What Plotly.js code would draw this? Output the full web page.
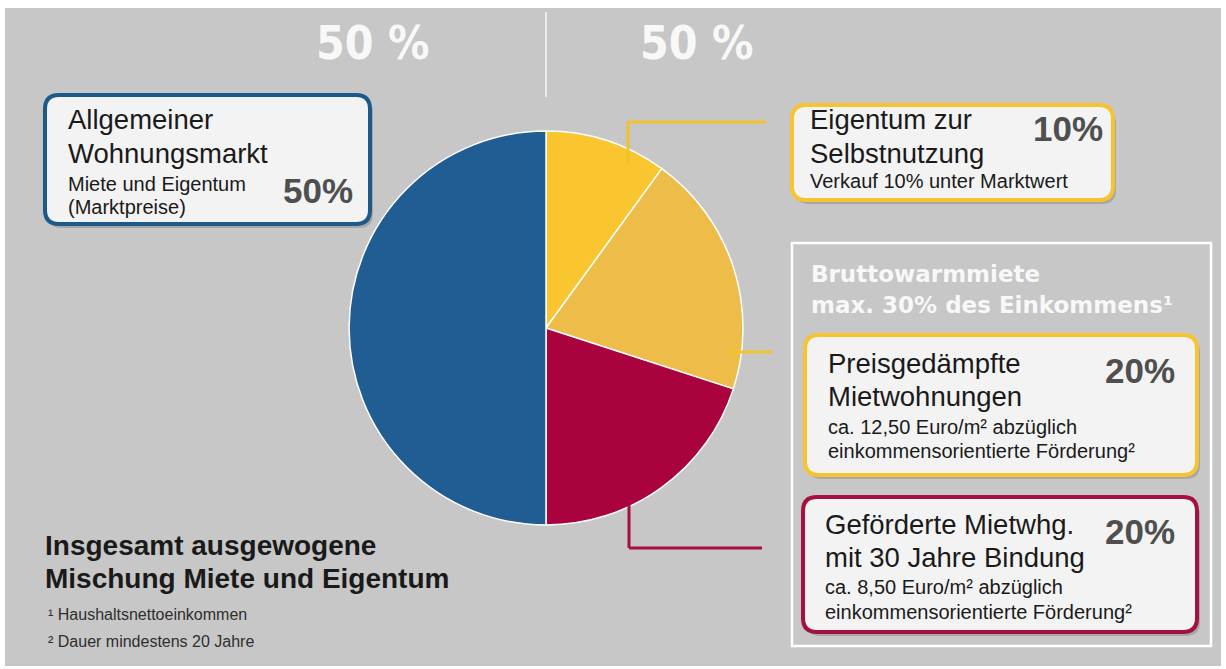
<!DOCTYPE html>
<html><head><meta charset="utf-8">
<script src="https://cdn.plot.ly/plotly-3.0.1.min.js"></script>
<style>html,body{margin:0;padding:0;background:#fff}#chart{width:1226px;height:669px}</style>
</head><body><div id="chart"></div>
<script>
// ---- data ----
const sliceLabels = ['Eigentum zur Selbstnutzung','Preisgedämpfte Mietwohnungen','Geförderte Mietwhg. mit 30 Jahre Bindung','Allgemeiner Wohnungsmarkt'];
const sliceValues = [10, 20, 20, 50];
const sliceColors = ['#f9c62f', '#eebc48', '#a9023f', '#1f5d92'];
const halfLabels = ['50 %', '50 %'];
const boxTitles = [
  ['Eigentum zur', 'Selbstnutzung'],
  ['Preisgedämpfte', 'Mietwohnungen'],
  ['Geförderte Mietwhg.', 'mit 30 Jahre Bindung'],
  ['Allgemeiner', 'Wohnungsmarkt']
];
const boxSubtitles = [
  ['Verkauf 10% unter Marktwert'],
  ['ca. 12,50 Euro/m² abzüglich', 'einkommensorientierte Förderung²'],
  ['ca. 8,50 Euro/m² abzüglich', 'einkommensorientierte Förderung²'],
  ['Miete und Eigentum', '(Marktpreise)']
];
const groupHeader = ['Bruttowarmmiete', 'max. 30% des Einkommens¹'];
const summaryLines = ['Insgesamt ausgewogene', 'Mischung Miete und Eigentum'];
const footnotes = ['¹ Haushaltsnettoeinkommen', '² Dauer mindestens 20 Jahre'];

// ---- helpers ----
const W = 1226, H = 669;
const px = x => x / W, py = y => 1 - y / H;
function rr(x0, y0, x1, y1, r) {
  const P = (x, y) => px(x).toFixed(5) + ',' + py(y).toFixed(5);
  return 'M' + P(x0 + r, y0) + ' L' + P(x1 - r, y0) + ' Q' + P(x1, y0) + ' ' + P(x1, y0 + r) +
    ' L' + P(x1, y1 - r) + ' Q' + P(x1, y1) + ' ' + P(x1 - r, y1) +
    ' L' + P(x0 + r, y1) + ' Q' + P(x0, y1) + ' ' + P(x0, y1 - r) +
    ' L' + P(x0, y0 + r) + ' Q' + P(x0, y0) + ' ' + P(x0 + r, y0) + ' Z';
}
const FONT = 'Liberation Sans, Arial, sans-serif';
const shapes = [];
const ann = [];
function line(x0, y0, x1, y1, color, w) {
  shapes.push({type: 'line', xref: 'paper', yref: 'paper', x0: px(x0), y0: py(y0), x1: px(x1), y1: py(y1),
    line: {color: color, width: w}, layer: 'above'});
}
function box(x0, y0, x1, y1, color) {
  shapes.push({type: 'path', xref: 'paper', yref: 'paper', path: rr(x0 + 3, y0 + 4, x1 + 3, y1 + 4, 14),
    fillcolor: 'rgba(0,0,0,0.16)', line: {width: 0}, layer: 'below'});
  shapes.push({type: 'path', xref: 'paper', yref: 'paper', path: rr(x0, y0, x1, y1, 14),
    fillcolor: '#f3f3f3', line: {color: color, width: 4}, layer: 'below'});
}
function text(t, x, y, size, opts) {
  opts = opts || {};
  ann.push({text: t, xref: 'paper', yref: 'paper', x: px(x), y: py(y), showarrow: false,
    xanchor: opts.xanchor || 'left', yanchor: 'middle',
    font: {family: opts.family || FONT, size: size, color: opts.color || '#1a1a1a', weight: opts.weight || 'normal'}});
}

// background
shapes.push({type: 'rect', xref: 'paper', yref: 'paper', x0: px(5), y0: py(8), x1: px(1221), y1: py(666),
  fillcolor: '#c7c7c7', line: {width: 0}, layer: 'below'});
// group outline (white)
shapes.push({type: 'rect', xref: 'paper', yref: 'paper', x0: px(792), y0: py(243), x1: px(1211), y1: py(646),
  fillcolor: 'rgba(0,0,0,0)', line: {color: '#ffffff', width: 2.5}, layer: 'below'});
// top separator
line(546, 12, 546, 97, 'rgba(255,255,255,0.85)', 1.5);

// boxes
box(45, 95, 370, 224, '#1d5a8c');
box(792, 105, 1113, 200, '#f5c430');
box(805, 335, 1197, 475, '#f5c430');
box(803, 497, 1197, 632, '#a5103f');

// connectors
line(628, 122, 766, 122, '#f2c12e', 3);
line(628, 122, 628, 166, '#f2c12e', 3);
line(728, 352, 772, 352, '#f2c12e', 3);
line(629, 505, 629, 548, '#a5103f', 3);
line(629, 548, 762, 548, '#a5103f', 3);

// top labels
const HFONT = 'Liberation Sans Narrow, DejaVu Sans Condensed, Liberation Sans, sans-serif';
text(halfLabels[0], 372, 43, 46, {xanchor: 'center', color: 'rgba(255,255,255,0.9)', weight: 'bold', family: HFONT});
text(halfLabels[1], 696, 43, 46, {xanchor: 'center', color: 'rgba(255,255,255,0.9)', weight: 'bold', family: HFONT});

// box texts
const boxPos = [
  {x: 808, ty: [120, 153], sy: [181], px: 1105, py: 128},
  {x: 826, ty: [363, 396], sy: [427, 451], px: 1177, py: 370},
  {x: 823, ty: [524, 557], sy: [587, 612], px: 1177, py: 531},
  {x: 66, ty: [120, 153], sy: [184, 207], px: 355, py: 191}
];
for (let i = 0; i < sliceValues.length; i++) {
  const b = boxPos[i];
  boxTitles[i].forEach((t, k) => text(t, b.x, b.ty[k], 27.5));
  boxSubtitles[i].forEach((t, k) => text(t, b.x, b.sy[k], 20));
  text(sliceValues[i] + '%', b.px, b.py, 35, {xanchor: 'right', color: '#4f4f4f', weight: 'bold'});
}

// group header
text(groupHeader[0], 809, 274, 23, {color: 'rgba(255,255,255,0.88)', weight: 'bold', family: 'DejaVu Sans, sans-serif'});
text(groupHeader[1], 809, 305, 23, {color: 'rgba(255,255,255,0.88)', weight: 'bold', family: 'DejaVu Sans, sans-serif'});

// summary and footnotes
text(summaryLines[0], 43, 545, 28, {weight: 'bold'});
text(summaryLines[1], 43, 578, 28, {weight: 'bold'});
text(footnotes[0], 46, 614, 16, {color: '#2e2e2e'});
text(footnotes[1], 46, 641, 16, {color: '#2e2e2e'});

const trace = {
  type: 'pie', labels: sliceLabels, values: sliceValues, sort: false, direction: 'clockwise', rotation: 0,
  marker: {colors: sliceColors, line: {color: '#ffffff', width: 1.5}},
  textinfo: 'none', hoverinfo: 'label+percent', showlegend: false,
  domain: {x: [px(349), px(743)], y: [py(525), py(131)]}
};
const layout = {
  width: W, height: H, margin: {l: 0, r: 0, t: 0, b: 0},
  paper_bgcolor: '#ffffff', plot_bgcolor: 'rgba(0,0,0,0)', showlegend: false,
  shapes: shapes, annotations: ann
};
Plotly.newPlot('chart', [trace], layout, {displayModeBar: false, staticPlot: true});
</script></body></html>
